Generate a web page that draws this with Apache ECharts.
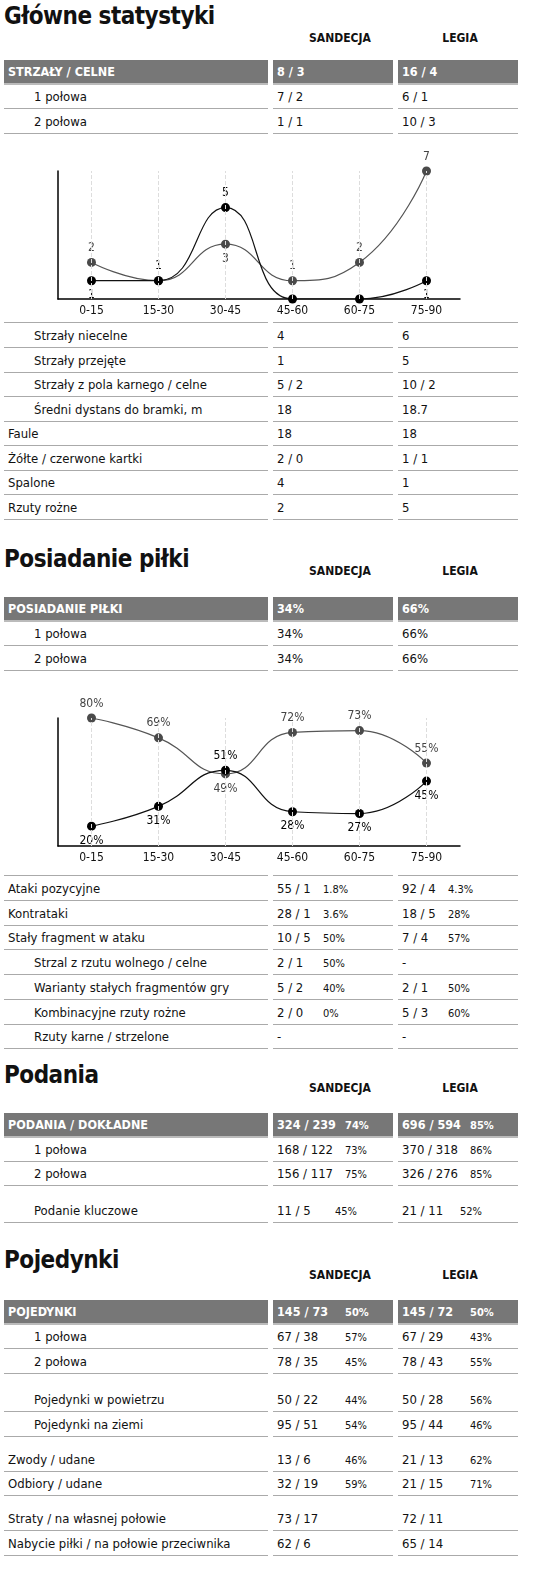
<!DOCTYPE html>
<html><head><meta charset="utf-8">
<script src="https://cdn.jsdelivr.net/npm/echarts@6/dist/echarts.min.js"></script>
<style>
html{margin:0;width:542px;height:1592px;overflow:hidden}
body{margin:0;width:542px;height:1592px;background:#fff;position:relative;font-family:"DejaVu Sans Condensed","DejaVu Sans",sans-serif;font-stretch:condensed;color:#111;overflow:hidden}
#root{position:absolute;left:0;top:0;width:542px;height:1592px;overflow:hidden}
.t{position:absolute;left:4px;font-size:24px;font-weight:bold;letter-spacing:-0.5px}
.h{position:absolute;font-size:12px;font-weight:bold;width:120px;text-align:center}
.c{position:absolute;height:23px;line-height:23px;font-size:13px;border-bottom:1.5px solid #aaa;white-space:nowrap;overflow:visible}
.hd{background:#777;color:#fff;font-weight:bold;border-bottom:2px solid #bbb}
.p{position:absolute;font-size:11px;top:1px}
.tl{position:absolute;height:0;border-top:1.5px solid #aaa}
</style></head><body>
<div id="root"></div>
<div id="ch1" style="position:absolute;left:0;top:145px;width:542px;height:185px"></div>
<div id="ch2" style="position:absolute;left:0;top:690px;width:542px;height:180px"></div>
<script>
const periods=['0-15','15-30','30-45','45-60','60-75','75-90'];
const shotsSandecja=[1,1,5,0,0,1];
const shotsLegia=[2,1,3,1,2,7];
const possSandecja=[20,31,51,28,27,45];
const possLegia=[80,69,49,72,73,55];
const teams=['SANDECJA','LEGIA'];
// [label, indent, sandecja, sandecjaPct, legia, legiaPct]
const shotsTop=[['STRZAŁY / CELNE',0,'8 / 3','','16 / 4',''],['1 połowa',1,'7 / 2','','6 / 1',''],['2 połowa',1,'1 / 1','','10 / 3','']];
const shotsMore=[['Strzały niecelne',1,'4','','6',''],['Strzały przejęte',1,'1','','5',''],['Strzały z pola karnego / celne',1,'5 / 2','','10 / 2',''],['Średni dystans do bramki, m',1,'18','','18.7',''],['Faule',0,'18','','18',''],['Żółte / czerwone kartki',0,'2 / 0','','1 / 1',''],['Spalone',0,'4','','1',''],['Rzuty rożne',0,'2','','5','']];
const possTop=[['POSIADANIE PIŁKI',0,'34%','','66%',''],['1 połowa',1,'34%','','66%',''],['2 połowa',1,'34%','','66%','']];
const possMore=[['Ataki pozycyjne',0,'55 / 1','1.8%','92 / 4','4.3%'],['Kontrataki',0,'28 / 1','3.6%','18 / 5','28%'],['Stały fragment w ataku',0,'10 / 5','50%','7 / 4','57%'],['Strzal z rzutu wolnego / celne',1,'2 / 1','50%','-',''],['Warianty stałych fragmentów gry',1,'5 / 2','40%','2 / 1','50%'],['Kombinacyjne rzuty rożne',1,'2 / 0','0%','5 / 3','60%'],['Rzuty karne / strzelone',1,'-','','-','']];
const passRows=[['PODANIA / DOKŁADNE',0,'324 / 239','74%','696 / 594','85%'],['1 połowa',1,'168 / 122','73%','370 / 318','86%'],['2 połowa',1,'156 / 117','75%','326 / 276','85%'],['Podanie kluczowe',1,'11 / 5','45%','21 / 11','52%']];
const duelRows=[['POJEDYNKI',0,'145 / 73','50%','145 / 72','50%'],['1 połowa',1,'67 / 38','57%','67 / 29','43%'],['2 połowa',1,'78 / 35','45%','78 / 43','55%'],['Pojedynki w powietrzu',1,'50 / 22','44%','50 / 28','56%'],['Pojedynki na ziemi',1,'95 / 51','54%','95 / 44','46%'],['Zwody / udane',0,'13 / 6','46%','21 / 13','62%'],['Odbiory / udane',0,'32 / 19','59%','21 / 15','71%'],['Straty / na własnej połowie',0,'73 / 17','','72 / 11',''],['Nabycie piłki / na połowie przeciwnika',0,'62 / 6','','65 / 14','']];

const root=document.getElementById('root');
function el(cls,style,html){const d=document.createElement('div');d.className=cls;d.style.cssText=style;d.innerHTML=html||'';root.appendChild(d);return d;}
function title(text,y,hy){el('t','top:'+y+'px',text);el('h','left:280px;top:'+hy+'px',teams[0]);el('h','left:400px;top:'+hy+'px',teams[1]);}
function topLine(y){[[4,264],[273,120],[398,120]].forEach(c=>el('tl','left:'+c[0]+'px;width:'+c[1]+'px;top:'+y+'px'));}
function rows(data,tops,pctOff,headerFirst){
  data.forEach((r,i)=>{const y=tops[i];const hd=headerFirst&&i===0?' hd':'';const fs=hd?'font-size:12.5px;':'';
    el('c'+hd,fs+'left:4px;top:'+y+'px;padding-left:'+(r[1]?30:4)+'px;width:'+(r[1]?234:260)+'px',r[0]);
    const po=Array.isArray(pctOff)?pctOff[i]:pctOff;
    el('c'+hd,fs+'left:273px;width:116px;padding-left:4px;top:'+y+'px',r[2]+(r[3]?'<span class="p" style="left:'+po+'px">'+r[3]+'</span>':''));
    el('c'+hd,fs+'left:398px;width:116px;padding-left:4px;top:'+y+'px',r[4]+(r[5]?'<span class="p" style="left:'+po+'px">'+r[5]+'</span>':''));
  });
}
title('Główne statystyki',2,31);
rows(shotsTop,[60,85,110],50,true);
topLine(322);
rows(shotsMore,[324,348.5,373,397.5,422,446.5,471,495.5],50,false);
title('Posiadanie piłki',545,564);
rows(possTop,[597,622,647],50,true);
topLine(875);
rows(possMore,[877,901.7,926.4,951,975.8,1000.5,1025],50,false);
title('Podania',1061,1081);
rows(passRows,[1113,1138,1162,1199],[72,72,72,62],true);
title('Pojedynki',1246,1268);
rows(duelRows,[1300,1325,1350,1388,1413,1448,1472,1507,1532],72,true);

const FF='DejaVu Sans Condensed, DejaVu Sans, sans-serif';
function lbl(vals,pos){return vals.map((v,i)=>({value:v,label:{show:pos[i]!=='none',position:pos[i]==='none'?'top':pos[i]}}));}
function mk(id,sVals,lVals,sPos,lPos,min,max,top,bottom,fmt){
  const c=echarts.init(document.getElementById(id));
  const base={type:'line',smooth:0.5,symbol:'circle',symbolSize:9,labelLayout:{hideOverlap:false},label:{fontSize:12,distance:4,fontFamily:FF,formatter:fmt}};
  c.setOption({animation:false,grid:{left:58,right:82,top:top,bottom:bottom},
    xAxis:{type:'category',data:periods,axisLine:{lineStyle:{color:'#000',width:1.5}},axisTick:{show:false},axisLabel:{color:'#111',fontSize:12,margin:6,fontFamily:FF}},
    yAxis:{type:'value',min:min,max:max,axisLine:{show:true,lineStyle:{color:'#000',width:1.5}},axisTick:{show:false},axisLabel:{show:false},splitLine:{show:false}},
    series:[Object.assign({},base,{name:'LEGIA',z:2,data:lbl(lVals,lPos),itemStyle:{color:'#4a4a4a'},lineStyle:{color:'#555',width:1.2},label:Object.assign({},base.label,{color:'#444'}),
      markLine:{silent:true,symbol:'none',label:{show:false},lineStyle:{color:'#ddd',type:'dashed',width:1},data:periods.map(p=>({xAxis:p}))}}),
      Object.assign({},base,{name:'SANDECJA',z:3,data:lbl(sVals,sPos),itemStyle:{color:'#000'},lineStyle:{color:'#111',width:1.2},label:Object.assign({},base.label,{color:'#000'})})]});
}
mk('ch1',shotsSandecja,shotsLegia,['bottom','top','top','none','none','bottom'],['top','none','bottom','top','top','top'],0,7,26,31,'{c}');
mk('ch2',possSandecja,possLegia,['bottom','bottom','top','bottom','bottom','bottom'],['top','top','bottom','top','top','top'],9,80,28,24,'{c}%');
</script></body></html>
